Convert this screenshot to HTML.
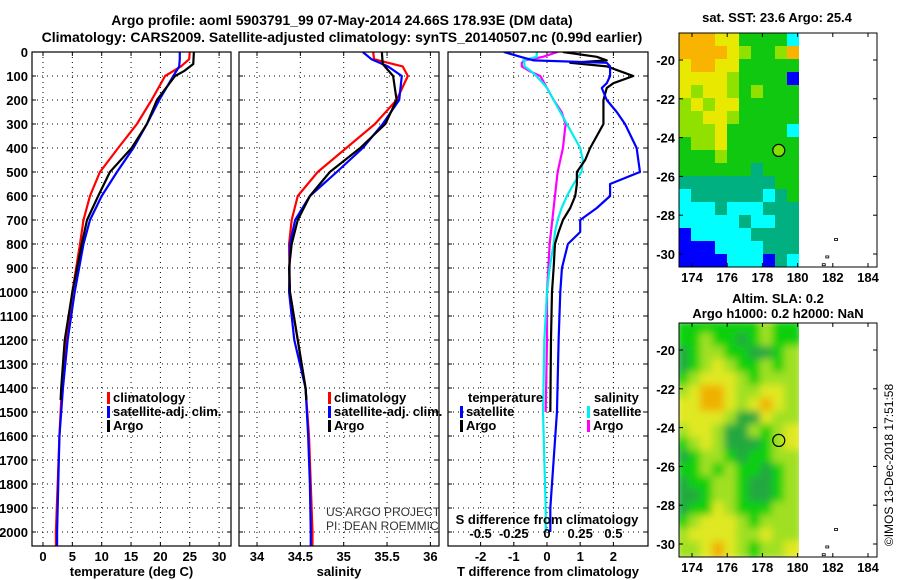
<!DOCTYPE html>
<html><head><meta charset="utf-8"><style>
body{margin:0;background:#fff}
svg{display:block;font-family:"Liberation Sans",Arial,sans-serif}
.b{font-weight:bold;font-size:13px}
</style></head><body>
<svg id="c" width="900" height="580" viewBox="0 0 900 580">
<text x="342" y="25" text-anchor="middle" class="b" style="font-size:14px">Argo profile: aoml 5903791_99 07-May-2014 24.66S 178.93E (DM data)</text>
<text x="342" y="42" text-anchor="middle" class="b" style="font-size:14px">Climatology: CARS2009. Satellite-adjusted climatology: synTS_20140507.nc (0.99d earlier)</text>
<g id="g"></g>
</svg>
<script>
// ---- data ----
const tDepth=[0,50,80,100,200,300,400,500,600,700,800,1000,1200,1400,1450];
const tArgo=[25.7,25.6,24,22.5,19.4,17.7,15.1,11.4,9.4,7.5,6.6,5.0,3.7,3.1,3.0];
const climDepth=[0,30,60,100,200,300,400,500,600,700,800,1000,1200,1400,1600,1800,2000,2058];
const tClim=[25.0,24.9,23.5,20.8,18.5,16.0,12.8,9.7,8.0,6.9,6.3,5.0,4.0,3.2,2.8,2.5,2.2,2.2];
const tSat=[23.3,23.3,23.2,22.2,19.8,17.7,15.4,12.6,10.0,8.0,6.9,5.4,4.2,3.4,2.8,2.6,2.4,2.4];
const sArgo=[35.44,35.45,35.57,35.61,35.48,35.19,34.84,34.61,34.47,34.40,34.37,34.38,34.47,34.56,34.57];
const sArgoDepth=[0,50,100,200,300,400,500,600,700,800,900,1000,1200,1400,1450];
const sClim=[35.34,35.35,35.68,35.74,35.61,35.36,35.03,34.70,34.47,34.40,34.37,34.38,34.47,34.56,34.60,34.62,34.64,34.64];
const sSat=[35.22,35.32,35.51,35.67,35.64,35.45,35.22,34.92,34.61,34.44,34.38,34.37,34.43,34.56,34.59,34.61,34.62,34.62];
const dDepth=[0,20,35,45,60,80,100,130,150,200,250,300,400,450,500,550,600,650,700,750,800,900,1000,1200,1500,1900,2000];
const dTArgo=[0.48,1.5,1.8,0.7,1.8,2.2,2.6,2.0,1.8,1.7,1.7,1.7,1.3,1.15,0.9,0.9,0.85,0.7,0.48,0.35,0.24,0.2,0.15,0.12,0.1,null,null];
const dTSat=[-1.3,-0.8,-0.4,1.8,1.9,1.9,1.9,1.8,1.65,1.8,2.1,2.35,2.7,2.75,2.8,1.9,1.9,1.5,1.0,1.0,0.63,0.45,0.4,0.35,0.3,0.1,0.1];
const dSArgo=[0.08,-0.03,-0.17,-0.19,-0.19,-0.13,-0.05,-0.02,0,0.05,0.11,0.14,0.12,0.10,0.08,0.07,0.06,0.05,0.04,0.03,0.02,0.01,0,0,-0.01,null,null];
const dSSat=[-0.075,-0.08,-0.18,-0.17,-0.17,-0.12,-0.08,-0.03,0,0.05,0.1,0.15,0.25,0.27,0.26,0.2,0.15,0.11,0.08,0.06,0.05,0.02,0,-0.02,-0.03,-0.01,-0.01];
const depthTicks=[0,100,200,300,400,500,600,700,800,900,1000,1100,1200,1300,1400,1500,1600,1700,1800,1900,2000];
const tTicks=[0,5,10,15,20,25,30];
const sTicks=[34,34.5,35,35.5,36];
const dTicks=[-2,-1,0,1,2];
const dsTicks=[-0.5,-0.25,0,0.25,0.5];
const dsLabels=["-0.5","-0.25","0","0.25","0.5"];
const latTicks=[-20,-22,-24,-26,-28,-30];
const lonTicks=[174,176,178,180,182,184];
const sstMap=["oooyyggggc","ooooylgglo","yooyyggggg","yyyylggggb","ylyylglggg","lylyyggggg","llyylggggg","lllygggggc","gllygggggg","ggglgggggg","ggggggtggg","ttttttttgg","cttttttctg","ccctccctttg","ccccctcctt","bccccctttt","bbbcccctttc","bbbbcccbtc"];
const slaMap=["ggggggglgg","gglggdglgg","dgllggddgl","dglylgglgl","glyyylglll","lyooyllyyl","yyooylyoyl","yyyylddyll","lyylddlgly","glyldddgly","dgllgdggll","gglglggdgl","dggllgddgl","ddgllgddgl","dggylgggll","glyyylglll","lyyyyllyll","llyoylglly"];
const argoLon=178.93, argoLat=-24.66;
// ---- scales ----
const yD=d=>52+0.24*d;
const xT=t=>43+5.87*t;
const xS=s=>257+86.7*(s-34);
const xD=v=>547+33.2*v;
const xDS=s=>xD(4*s);
const NS='http://www.w3.org/2000/svg';
const G=document.getElementById('g');
function el(tag,attrs,parent){const e=document.createElementNS(NS,tag);for(const k in attrs)e.setAttribute(k,attrs[k]);(parent||G).appendChild(e);return e;}
function txt(x,y,s,cls,anchor,parent){const t=el('text',{x:x,y:y,'text-anchor':anchor||'middle'},parent);if(cls)t.setAttribute('class',cls);t.textContent=s;return t;}
function line(xs,ds,fx){let p=[];for(let i=0;i<ds.length;i++){if(xs[i]==null)break;p.push(fx(xs[i])+','+yD(ds[i]));}return p.join(' ');}
const panels=[
 {name:'temperature-panel',x0:32,x1:231,ticks:tTicks,fx:xT,labels:tTicks.map(String),xl:'temperature (deg C)'},
 {name:'salinity-panel',x0:239,x1:439,ticks:sTicks,fx:xS,labels:sTicks.map(String),xl:'salinity'},
 {name:'difference-panel',x0:448,x1:648,ticks:dTicks,fx:xD,labels:dTicks.map(String),xl:'T difference from climatology'}
];
const yTop=52,yBot=546;
panels.forEach((p,pi)=>{
 const g=el('g',{});
 
 
 const cp=el('clipPath',{id:'cp'+pi},g);el('rect',{x:p.x0,y:yTop,width:p.x1-p.x0,height:yBot-yTop},cp);
 depthTicks.forEach(d=>{const l=el('line',{x1:p.x0,x2:p.x1,y1:yD(d),y2:yD(d),stroke:'#000','stroke-width':1,'stroke-dasharray':'1,4'},g);
  el('line',{x1:p.x0,x2:p.x0+4,y1:yD(d),y2:yD(d),stroke:'#000'},g);el('line',{x1:p.x1-4,x2:p.x1,y1:yD(d),y2:yD(d),stroke:'#000'},g);});
 p.ticks.forEach((t,i)=>{const x=p.fx(t);const l=el('line',{x1:x,x2:x,y1:yTop,y2:yBot,stroke:'#000','stroke-width':1,'stroke-dasharray':'1,4'},g);
  el('line',{x1:x,x2:x,y1:yBot-4,y2:yBot,stroke:'#000'},g);el('line',{x1:x,x2:x,y1:yTop,y2:yTop+4,stroke:'#000'},g);
  const tl=txt(x,561,p.labels[i],'b','middle',g);});
 const xt=txt((p.x0+p.x1)/2,576,p.xl,'b','middle',g);
 const series= pi==0?[[tClim,climDepth,'#f00'],[tSat,climDepth,'#00f'],[tArgo,tDepth,'#000']]:
   pi==1?[[sClim,climDepth,'#f00'],[sSat,climDepth,'#00f'],[sArgo,sArgoDepth,'#000']]:
   [[dSArgo,dDepth,'#f0f',xDS],[dSSat,dDepth,'#0ee',xDS],[dTArgo,dDepth,'#000',xD],[dTSat,dDepth,'#00f',xD]];
 const names=pi==0?['temp-climatology-line','temp-satellite-line','temp-argo-line']:pi==1?['sal-climatology-line','sal-satellite-line','sal-argo-line']:['sdiff-argo-line','sdiff-satellite-line','tdiff-argo-line','tdiff-satellite-line'];
 series.forEach((s,si)=>{const pl=el('polyline',{points:line(s[0],s[1],s[3]||p.fx),fill:'none',stroke:s[2],'stroke-width':2.2,'stroke-linejoin':'round','clip-path':'url(#cp'+pi+')'},g);});
 el('rect',{x:p.x0,y:yTop,width:p.x1-p.x0,height:yBot-yTop,fill:'none',stroke:'#000','stroke-width':1.2},g);
});
depthTicks.forEach(d=>{const t=txt(28,yD(d)+5,String(d),'b','end');});
// legends
function leg(x,y,color,label,nm){const r=el('rect',{x:x,y:y-10,width:3,height:12,fill:color});const t=txt(x+6,y,label,'b','start');}
[[107,'temp'],[328,'sal']].forEach(([x,n])=>{leg(x,402,'#f00','climatology','legend-'+n+'-climatology');leg(x,416,'#00f','satellite-adj. clim.','legend-'+n+'-satellite');leg(x,430,'#000','Argo','legend-'+n+'-argo');});
let t=txt(468,402,'temperature','b','start');
t=txt(594,402,'salinity','b','start');
leg(460,416,'#00f','satellite','legend-tdiff-satellite');leg(460,430,'#000','Argo','legend-tdiff-argo');
leg(587,416,'#0ee','satellite','legend-sdiff-satellite');leg(587,430,'#f0f','Argo','legend-sdiff-argo');
t=txt(547,524,'S difference from climatology','b','middle');
dsTicks.forEach((s,i)=>{const tt=txt(xDS(s),538,dsLabels[i],'b','middle');});
const cpS=el('clipPath',{id:'cpS'});el('rect',{x:239,y:480,width:200,height:60},cpS);
const pg=el('g',{'clip-path':'url(#cpS)',fill:'#333','font-size':'12px'});

txt(326,516,'US ARGO PROJECT','', 'start',pg);txt(326,530,'PI: DEAN ROEMMICH','','start',pg);
// maps
const col={o:'#f8b400',y:'#e8e800',l:'#90e000',g:'#10c810',t:'#00b080',c:'#00ffff',b:'#0000ff',d:'#30a840'};
const col2={o:'#f0b000',y:'#e0e820',l:'#a0e020',g:'#10d010',d:'#20a840'};
function map(top,rows,cmap,nm,blur){
 const box={x0:679,x1:877,y0:top,y1:top+234};
 const gx=lon=>692+(lon-174)*17.6, gy=lat=>top+27+(-20-lat)*19.4;
 const g=el('g',{});
 const cid='mc'+top;const cp=el('clipPath',{id:cid},g);el('rect',{x:679,y:top,width:120,height:234},cp);
 const ig=el('g',{'clip-path':'url(#'+cid+')'},g);
 const ig2=el('g',blur?{filter:'url(#bl)'}:{},ig);
 const cw=12,ch=13;
 rows.forEach((r,ri)=>{for(let ci=0;ci<10;ci++){const c=r[ci]||'g';el('rect',{x:679+ci*cw-(blur?3:0),y:top+ri*ch-(blur?3:0),width:cw+(blur?6:0),height:ch+(blur?6:0),fill:cmap[c]||cmap.g},ig2);}});
 el('rect',{x:box.x0,y:box.y0,width:box.x1-box.x0,height:234,fill:'none',stroke:'#000'},g);
 latTicks.forEach(l=>{el('line',{x1:box.x1-4,x2:box.x1,y1:gy(l),y2:gy(l),stroke:'#000'},g);el('line',{x1:box.x0,x2:box.x0+4,y1:gy(l),y2:gy(l),stroke:'#000'},g);const tt=txt(675,gy(l)+5,String(l),'b','end',g);});
 lonTicks.forEach(l=>{el('line',{x1:gx(l),x2:gx(l),y1:box.y1-4,y2:box.y1,stroke:'#000'},g);el('line',{x1:gx(l),x2:gx(l),y1:box.y0,y2:box.y0+4,stroke:'#000'},g);const tt=txt(gx(l),box.y1+15,String(l),'b','middle',g);});
 const c=el('circle',{cx:gx(argoLon),cy:gy(argoLat),r:6,fill:blur?'none':'#80e000',stroke:'#000','stroke-width':1.2},g);
 [[182.1,-29.2],[181.6,-30.1],[181.4,-30.5]].forEach(p=>el('rect',{x:gx(p[0]),y:gy(p[1]),width:3,height:2,fill:'none',stroke:'#000','stroke-width':0.8},g));
}
const defs=el('defs',{});const f=el('filter',{id:'bl'},defs);el('feGaussianBlur',{stdDeviation:4},f);
map(33,sstMap,col,'sst-map',false);
map(323,slaMap,col2,'sla-map',true);
t=txt(777,22,'sat. SST: 23.6 Argo: 25.4','b','middle');
t=txt(778,303,'Altim. SLA: 0.2','b','middle');
t=txt(778,318,'Argo h1000: 0.2 h2000: NaN','b','middle');
t=txt(0,0,'©IMOS 13-Dec-2018 17:51:58','','middle');t.setAttribute('transform','translate(893,465) rotate(-90)');t.setAttribute('font-size','12px');

</script>
</body></html>
